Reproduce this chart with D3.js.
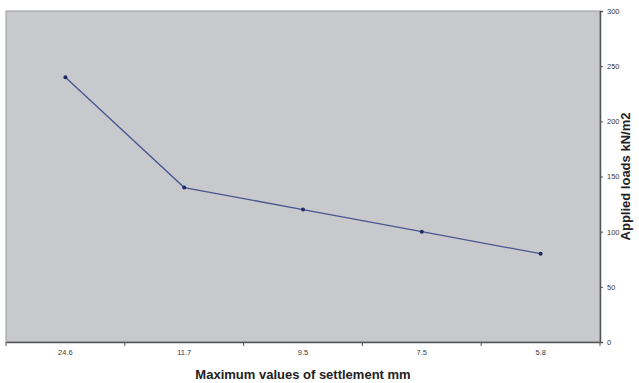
<!DOCTYPE html>
<html>
<head>
<meta charset="utf-8">
<script src="https://cdn.jsdelivr.net/npm/d3@7"></script>
<style>
  body { margin: 0; background: #fff; }
  .axis text { font-family: "Liberation Sans", Arial, sans-serif; font-size: 7.5px; fill: #3a3a3a; }
  .title { font-family: "Liberation Sans", Arial, sans-serif; font-size: 13px; font-weight: bold; fill: #222; }
</style>
</head>
<body>
<div id="chart"></div>
<script>
// settlement categories (x) and applied loads (y)
var settlement = ["24.6", "11.7", "9.5", "7.5", "5.8"];
var loads = [240, 140, 120, 100, 80];
var yTicks = [0, 50, 100, 150, 200, 250, 300];

var svgWidth = 639;
var svgHeight = 383;

var margin = { top: 11, right: 39, bottom: 41, left: 6 };
var plotWidth = svgWidth - margin.left - margin.right;
var plotHeight = svgHeight - margin.top - margin.bottom;

var svg = d3.select("#chart")
    .append("svg")
    .attr("width", svgWidth)
    .attr("height", svgHeight);

var chartGroup = svg.append("g")
    .attr("transform", `translate(${margin.left}, ${margin.top})`);

var xScale = d3.scaleBand()
    .domain(settlement)
    .range([0, plotWidth])
    .padding(0);

var yScale = d3.scaleLinear()
    .domain([0, 300])
    .range([plotHeight, 0]);

// plot area
chartGroup.append("rect")
    .attr("width", plotWidth)
    .attr("height", plotHeight)
    .attr("fill", "#c8c9cd")
    .attr("stroke", "#9a9a9e")
    .attr("stroke-width", 1);

// x axis: labels centred in bands, tick marks at band edges
var xAxis = d3.axisBottom(xScale).tickSize(0).tickPadding(8);
var xg = chartGroup.append("g")
    .attr("class", "axis")
    .attr("transform", `translate(0, ${plotHeight})`)
    .call(xAxis);
xg.select(".domain").attr("stroke", "#555").attr("stroke-width", 1.5);

var edges = settlement.map(d => xScale(d)).concat([plotWidth]);
xg.selectAll(".edge")
    .data(edges)
    .enter()
    .append("line")
    .attr("class", "edge")
    .attr("x1", d => d)
    .attr("x2", d => d)
    .attr("y1", 0)
    .attr("y2", 4)
    .attr("stroke", "#555");

// right y axis
var yAxis = d3.axisRight(yScale).tickValues(yTicks).tickSize(3).tickPadding(4);
var yg = chartGroup.append("g")
    .attr("class", "axis")
    .attr("transform", `translate(${plotWidth}, 0)`)
    .call(yAxis);
yg.select(".domain").attr("stroke", "#555").attr("stroke-width", 1.5);
yg.selectAll(".tick line").attr("stroke", "#555");

// series line
var line = d3.line()
    .x((d, i) => xScale(settlement[i]) + xScale.bandwidth() / 2)
    .y(d => yScale(d));

chartGroup.append("path")
    .datum(loads)
    .attr("fill", "none")
    .attr("stroke", "#4a5590")
    .attr("stroke-width", 1.3)
    .attr("d", line);

chartGroup.selectAll(".pt")
    .data(loads)
    .enter()
    .append("circle")
    .attr("class", "pt")
    .attr("cx", (d, i) => xScale(settlement[i]) + xScale.bandwidth() / 2)
    .attr("cy", d => yScale(d))
    .attr("r", 2)
    .attr("fill", "#1f2a66");

// axis titles
svg.append("text")
    .attr("class", "title")
    .attr("text-anchor", "middle")
    .attr("x", margin.left + plotWidth / 2)
    .attr("y", svgHeight - 4)
    .text("Maximum values of settlement mm");

svg.append("text")
    .attr("class", "title")
    .attr("text-anchor", "middle")
    .attr("transform", `translate(${svgWidth - 9}, ${margin.top + yScale(150)}) rotate(-90)`)
    .text("Applied loads kN/m2");
</script>
</body>
</html>
